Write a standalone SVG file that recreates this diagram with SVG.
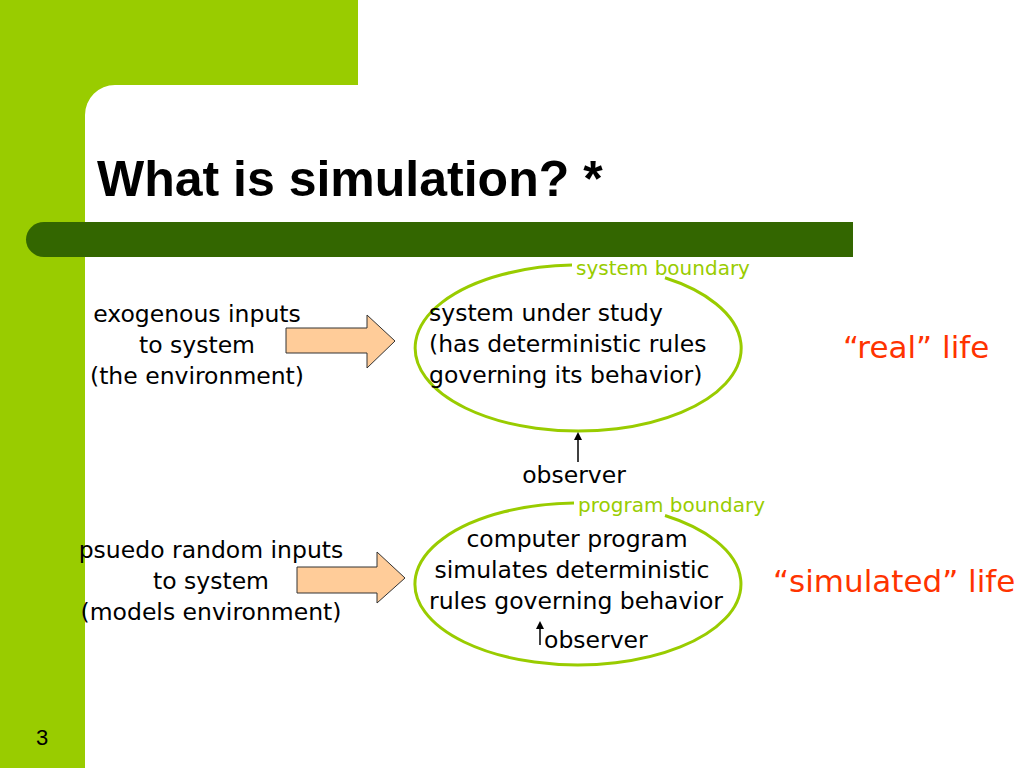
<svg xmlns="http://www.w3.org/2000/svg" width="1024" height="768" viewBox="0 0 1024 768">
<defs>
<style>
.t{font-family:"DejaVu Sans","Open Sans",sans-serif;font-size:23.5px;fill:#000}
.g{font-family:"DejaVu Sans","Open Sans",sans-serif;font-size:20px;fill:#99CC00}
.r{font-family:"DejaVu Sans","Open Sans",sans-serif;font-size:31px;fill:#FF3300}
.b{fill:none;stroke:#99CC00;stroke-width:3}
.ba{fill:#FFCC99;stroke:#333;stroke-width:1}
.ln{stroke:#000;stroke-width:1.5;fill:none}
</style>
<marker id="ah" markerWidth="8" markerHeight="8" refX="4" refY="4" orient="auto" markerUnits="userSpaceOnUse">
<path d="M0,0 L8,4 L0,8 z" fill="#000"/>
</marker>
</defs>
<rect width="1024" height="768" fill="#fff"/>
<g id="background">
<rect x="0" y="0" width="358" height="85" fill="#99CC00"/>
<rect x="0" y="0" width="85" height="768" fill="#99CC00"/>
<path d="M85,115 A30,30 0 0 1 115,85 L85,85 z" fill="#99CC00"/>
<path d="M44,222 L853,222 L853,257 L44,257 A18,17.5 0 0 1 44,222 z" fill="#336600"/>
</g>
<g id="title">
<text x="97" y="196" style="font-family:'Liberation Sans',Arial,sans-serif;font-size:50px;font-weight:bold;fill:#000">What is simulation? *</text>
</g>
<g id="page-number">
<text x="42" y="745" text-anchor="middle" style="font-family:'Liberation Sans',Arial,sans-serif;font-size:22px;fill:#000">3</text>
</g>
<g id="exogenous-inputs">
<text class="t" text-anchor="middle"><tspan x="197" y="322">exogenous inputs</tspan><tspan x="197" y="353">to system</tspan><tspan x="197" y="384">(the environment)</tspan></text>
</g>
<g id="system-under-study">
<path class="b" d="M665,277.8 A163,83 0 1 1 572,265.1"/>
<text class="t"><tspan x="429" y="321">system under study</tspan><tspan x="429" y="352">(has deterministic rules</tspan><tspan x="429" y="383">governing its behavior)</tspan></text>
<text class="g" x="576" y="275">system boundary</text>
</g>
<g id="real-life">
<text class="r" x="843" y="358">“real” life</text>
</g>
<g id="observer">
<text class="t" x="574" y="483" text-anchor="middle">observer</text>
</g>
<g id="psuedo-random-inputs">
<text class="t" text-anchor="middle"><tspan x="211" y="558">psuedo random inputs</tspan><tspan x="211" y="589">to system</tspan><tspan x="211" y="620">(models environment)</tspan></text>
</g>
<g id="computer-program">
<path class="b" d="M665,515.5 A163,81 0 1 1 574,503"/>
<text class="t" text-anchor="middle"><tspan x="577" y="547">computer program</tspan><tspan x="572" y="578">simulates deterministic</tspan><tspan x="576" y="609">rules governing behavior</tspan></text>
<text class="g" x="578" y="512">program boundary</text>
<text class="t" x="544" y="648">observer</text>
</g>
<g id="simulated-life">
<text class="r" x="773" y="592">“simulated” life</text>
</g>
<g id="connectors">
<path class="ba" d="M286,328 L367,328 L367,315 L395,341 L367,368 L367,353 L286,353 z"/>
<path class="ba" d="M297,567 L377,567 L377,552 L405,578 L377,603 L377,593 L297,593 z"/>
<line class="ln" x1="578" y1="462" x2="578" y2="436" marker-end="url(#ah)"/>
<line class="ln" x1="540" y1="645" x2="540" y2="625" marker-end="url(#ah)"/>
</g>
</svg>
